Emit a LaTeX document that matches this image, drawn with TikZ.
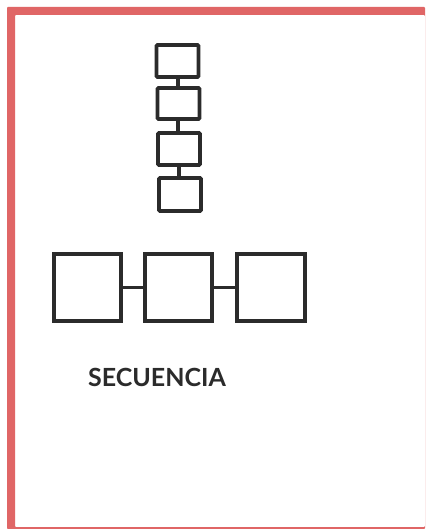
\documentclass[tikz,border=0pt]{standalone}
\usepackage{fontspec}
\setmainfont{Lato}
\definecolor{frameRed}{HTML}{E06666}
\definecolor{inkDark}{HTML}{2B2B2B}
\tikzset{
  x=1pt,y=-1pt,
  smallbox/.style={draw=inkDark,line width=3.6pt,rounded corners=1pt,inner sep=0pt,outer sep=0pt,minimum width=42pt,minimum height=32pt},
  bigbox/.style={draw=inkDark,line width=4pt,inner sep=0pt,outer sep=0pt,minimum width=67.5pt,minimum height=67.5pt},
  link/.style={draw=inkDark,line width=3.6pt},
  heading/.style={text=inkDark,font=\bfseries\fontsize{25pt}{28pt}\selectfont,inner sep=0pt}
}
\begin{document}
\begin{tikzpicture}
\useasboundingbox (0,0) rectangle (425,529);
\fill[white] (0,0) rectangle (425,529);
\fill[frameRed,even odd rule,rounded corners=1pt] (7,7) -- (425,7) -- (425,529) -- (7,529) -- cycle
  (15,15) -- (425,15) -- (425,527) -- (15,527) -- cycle;
\node[smallbox] (v1) at (177.5,61) {};
\node[smallbox,minimum height=31pt] (v2) at (178.5,103.5) {};
\node[smallbox] (v3) at (179,149) {};
\node[smallbox,minimum height=33pt] (v4) at (180,194.5) {};
\coordinate (a1) at (178,70);
\coordinate (a2) at (178,110);
\coordinate (a3) at (179,155);
\draw[link] (a1 |- v1.south) -- (a1 |- v2.north);
\draw[link] (a2 |- v2.south) -- (a2 |- v3.north);
\draw[link] (a3 |- v3.south) -- (a3 |- v4.north);
\node[bigbox] (h1) at (87.5,287.5) {};
\node[bigbox] (h2) at (178.5,287.5) {};
\node[bigbox] (h3) at (271,287.5) {};
\draw[link] (h1.east) -- (h2.west);
\draw[link] (h2.east) -- (h3.west);
\node[heading] (label) at (157,377) {SECUENCIA};
\end{tikzpicture}
\end{document}
